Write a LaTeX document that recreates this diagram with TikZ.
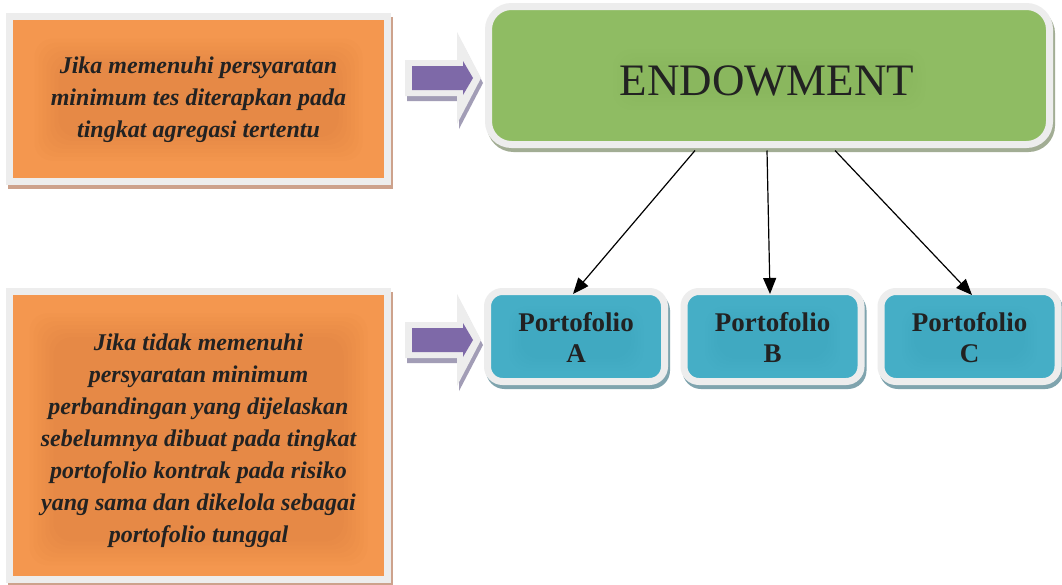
\documentclass[tikz,border=0pt]{standalone}
\usepackage{fontspec}
\setmainfont{Liberation Serif}
\usetikzlibrary{arrows.meta}
\definecolor{orangeF}{HTML}{F4974F}
\definecolor{greenF}{HTML}{8FBC63}
\definecolor{blueF}{HTML}{45AEC6}
\definecolor{purpleF}{HTML}{7E69A8}
\definecolor{borderC}{HTML}{EDEDED}
\definecolor{shO}{HTML}{CDA28C}
\definecolor{shG}{HTML}{A2AD94}
\definecolor{shB}{HTML}{7FA4AE}
\definecolor{shP}{HTML}{A29DB6}
\definecolor{glowO}{HTML}{C46A32}
\definecolor{glowG}{HTML}{5E8A3C}
\definecolor{glowB}{HTML}{2C7F95}
\definecolor{textC}{HTML}{222222}
\begin{document}
\begin{tikzpicture}[x=1pt,y=-1pt,
  panel/.style={draw=borderC, line width=7pt, inner sep=0pt, outer sep=0pt,
    preaction={draw=#1, fill=#1, line width=7pt, transform canvas={xshift=2pt,yshift=-4pt}}},
  orangebox/.style={panel=shO, fill=orangeF, minimum width=378pt, minimum height=#1},
  greenbox/.style={panel=shG, fill=greenF, rounded corners=23pt, minimum width=561pt, minimum height=138pt},
  bluebox/.style={panel=shB, fill=blueF, rounded corners=15pt, minimum width=177pt, minimum height=90pt},
  otext/.style={align=center, text=textC, inner sep=0pt, font=\fontsize{24pt}{32pt}\selectfont\bfseries\itshape},
  ptext/.style={align=center, text=textC, inner sep=0pt, font=\fontsize{27pt}{31pt}\selectfont\bfseries},
  conn/.style={line width=1.2pt, -{Triangle[length=16pt,width=13pt]}},
  glowlayer/.style={fill=#1, opacity=0.04, rounded corners=18pt}
]
\useasboundingbox (0,0) rectangle (1062,584);
\fill[white] (0,0) rectangle (1062,584);

% block arrows
\foreach \cy in {78,340}{
  \fill[shP] (407,\cy-13) -- (459,\cy-13) -- (459,\cy-41) -- (483,\cy+5) -- (459,\cy+51) -- (459,\cy+23) -- (407,\cy+23) -- cycle;
  \fill[borderC] (405,\cy-18) -- (457,\cy-18) -- (457,\cy-46) -- (481,\cy) -- (457,\cy+46) -- (457,\cy+18) -- (405,\cy+18) -- cycle;
  \fill[purpleF] (412,\cy-12) -- (463,\cy-12) -- (463,\cy-17) -- (473,\cy) -- (463,\cy+17) -- (463,\cy+12) -- (412,\cy+12) -- cycle;
}

% boxes
\node[orangebox=164.5pt] (o1) at (198.5,98.75) {};
\node[orangebox=287.5pt] (o2) at (198.5,435.25) {};
\node[greenbox] (endow) at (769,75.5) {};
\node[bluebox] (pA) at (576,336.5) {};
\node[bluebox] (pB) at (772.5,336.5) {};
\node[bluebox] (pC) at (969.5,336.5) {};

% glows
\foreach \i in {0,...,6}{
  \fill[glowlayer=glowO] ([shift={(-140-4*\i,-36-4*\i)}]o1.center) rectangle ([shift={(140+4*\i,38+4*\i)}]o1.center);
  \fill[glowlayer=glowO] ([shift={(-145-4*\i,-98-4*\i)}]o2.center) rectangle ([shift={(145+4*\i,106+4*\i)}]o2.center);
}
\foreach \i in {0,...,4}{
  \fill[glowlayer=glowG, opacity=0.02] ([shift={(-140-4*\i,-10-4*\i)}]endow.center) rectangle ([shift={(140+4*\i,18+4*\i)}]endow.center);
  \foreach \p in {pA,pB,pC}{
    \fill[glowlayer=glowB, opacity=0.015] ([shift={(-55-3*\i,-18-3*\i)}]\p.center) rectangle ([shift={(55+3*\i,22+3*\i)}]\p.center);
  }
}

% texts
\node[otext] (t1) at ([yshift=-1pt]o1.center) {Jika memenuhi persyaratan\\minimum tes diterapkan pada\\tingkat agregasi tertentu};
\node[otext] (t2) at ([yshift=-5pt]o2.center) {Jika tidak memenuhi\\persyaratan minimum\\perbandingan yang dijelaskan\\sebelumnya dibuat pada tingkat\\portofolio kontrak pada risiko\\yang sama dan dikelola sebagai\\portofolio tunggal};
\node[text=textC, font=\fontsize{45pt}{50pt}\selectfont, inner sep=0pt] (tE) at ([shift={(-2,5)}]endow.center) {ENDOWMENT};
\node[ptext] (tA) at ([shift={(0,1)}]pA.center) {Portofolio\\A};
\node[ptext] (tB) at ([shift={(0,1)}]pB.center) {Portofolio\\B};
\node[ptext] (tC) at ([shift={(0,1)}]pC.center) {Portofolio\\C};

% connectors
\draw[conn] ([shift={(-74,6)}]endow.south) -- ([shift={(-3,2.5)}]pA.north);
\draw[conn] ([shift={(-2,6)}]endow.south) -- ([shift={(-2.5,2.5)}]pB.north);
\draw[conn] ([shift={(66,6)}]endow.south) -- ([shift={(2.5,3.5)}]pC.north);
\end{tikzpicture}
\end{document}
